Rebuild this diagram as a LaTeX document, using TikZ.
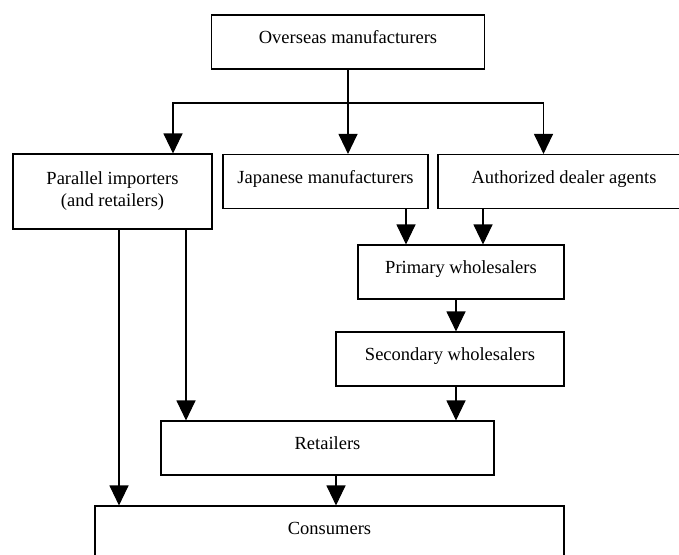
\documentclass[tikz,border=0pt]{standalone}
\usepackage{fontspec}
\setmainfont{Liberation Serif}
\usetikzlibrary{arrows.meta,positioning,calc}

\begin{document}
\begin{tikzpicture}[x=1pt,y=-1pt,line width=1.1pt,
  chan/.style={draw,rectangle,minimum height=54pt,inner sep=0pt,
    font=\fontsize{18.5}{22}\selectfont,text height=12pt,text depth=9pt},
  flow/.style={-{Triangle[length=20pt,width=19pt]}}]
  \useasboundingbox (0,0) rectangle (679,554);
  \clip (0,0) rectangle (679,554);
  \node[chan,minimum width=273pt] (over) at (348,42) {Overseas manufacturers};
  \node[chan,minimum width=199pt,minimum height=75pt,align=center,text height=,text depth=] (para) at (112.5,191.5) {Parallel importers\\(and retailers)};
  \node[chan,minimum width=205pt] (japan) at (325.5,181.5) {Japanese manufacturers};
  \node[chan,minimum width=252pt] (auth) at (564,181.5) {Authorized dealer agents};
  \node[chan,minimum width=206pt] (prim) at (461,272) {Primary wholesalers};
  \node[chan,minimum width=228pt] (sec) at (450,359) {Secondary wholesalers};
  \node[chan,minimum width=333pt] (ret) at (327.5,448) {Retailers};
  \node[chan,minimum width=469pt] (cons) at (329.5,533) {Consumers};
  \coordinate (split) at (348,103);
  % from overseas
  \draw (over) -- (split);
  \draw[flow] (split) -| ([xshift=60.5pt]para.north);
  \draw[flow] (split) -- (japan.north -| split);
  \draw[flow] (split) -| ([xshift=-20.5pt]auth.north);
  % wholesale chain
  \draw[flow] ([xshift=80.5pt]japan.south) -- ([xshift=-55pt]prim.north);
  \draw[flow] ([xshift=-81pt]auth.south) -- ([xshift=22pt]prim.north);
  \draw[flow] ([xshift=-5pt]prim.south) -- ([xshift=6pt]sec.north);
  \draw[flow] ([xshift=6pt]sec.south) -- ([xshift=128.5pt]ret.north);
  % parallel route
  \draw[flow] ([xshift=73.5pt]para.south) -- ([xshift=-141.5pt]ret.north);
  \draw[flow] ([xshift=6.5pt]para.south) -- ([xshift=-210.5pt]cons.north);
  \draw[flow] ([xshift=8.5pt]ret.south) -- ([xshift=6.5pt]cons.north);
\end{tikzpicture}
\end{document}
